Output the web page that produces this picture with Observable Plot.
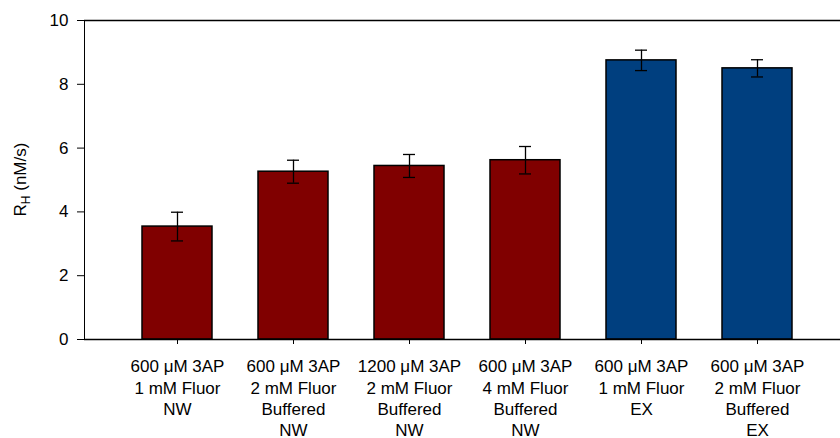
<!DOCTYPE html>
<html>
<head>
<meta charset="utf-8">
<script src="https://cdn.jsdelivr.net/npm/d3@7"></script>
<script src="https://cdn.jsdelivr.net/npm/@observablehq/plot@0.6"></script>
<style>
  html, body { margin: 0; padding: 0; background: #fff; }
  #chart svg { display: block; }
</style>
</head>
<body>
<div id="chart"></div>
<script>
// Hydroxyl radical production rate R_H per condition
const categories = [
  "600 \u03bcM 3AP\n1 mM Fluor\nNW",
  "600 \u03bcM 3AP\n2 mM Fluor\nBuffered\nNW",
  "1200 \u03bcM 3AP\n2 mM Fluor\nBuffered\nNW",
  "600 \u03bcM 3AP\n4 mM Fluor\nBuffered\nNW",
  "600 \u03bcM 3AP\n1 mM Fluor\nEX",
  "600 \u03bcM 3AP\n2 mM Fluor\nBuffered\nEX"
];
const means  = [3.54, 5.26, 5.44, 5.62, 8.75, 8.50];
const errors = [0.45, 0.36, 0.36, 0.43, 0.32, 0.27];
const groups = ["NW", "NW", "NW", "NW", "EX", "EX"];
const yTicks = [0, 2, 4, 6, 8, 10];

const data = categories.map((c, i) => ({
  cat: c, mean: means[i], err: errors[i], group: groups[i]
}));

const chart = Plot.plot({
  width: 840,
  height: 438,
  marginTop: 20,
  marginBottom: 99,
  marginLeft: 84,
  marginRight: 0,
  style: { fontFamily: "'Liberation Sans', Arial, sans-serif", fontSize: "17px", color: "#000", background: "#fff" },
  x: {
    domain: categories,
    range: [84, 850],
    paddingInner: 0.397,
    paddingOuter: 0.5
  },
  y: {
    domain: [0, 10],
    ticks: yTicks,
    tickSize: 7,
    tickPadding: 9,
    line: true,
    label: null
  },
  color: { domain: ["NW", "EX"], range: ["#800000", "#003f7f"] },
  marks: [
    Plot.barY(data, { x: "cat", y: "mean", fill: "group", stroke: "#000", strokeWidth: 1.5 }),
    Plot.ruleX(data, { x: "cat", y1: d => d.mean - d.err, y2: d => d.mean + d.err, stroke: "#000", strokeWidth: 1.3 }),
    Plot.tickY(data, { x: "cat", y: d => d.mean + d.err, stroke: "#000", strokeWidth: 1.3, insetLeft: 29, insetRight: 29 }),
    Plot.tickY(data, { x: "cat", y: d => d.mean - d.err, stroke: "#000", strokeWidth: 1.3, insetLeft: 29, insetRight: 29 }),
    Plot.axisX({ tickSize: 5, tickPadding: 13, lineHeight: 1.24, label: null, fontSize: 17 }),
    Plot.ruleY([0], { stroke: "#000", strokeWidth: 1.3 }),
    Plot.ruleY([10], { stroke: "#000", strokeWidth: 1.3 })
  ]
});

// rotated y-axis title with subscript H
const ys = chart.scale("y");
const yMid = (ys.apply(0) + ys.apply(10)) / 2;
const title = d3.select(chart).append("text")
  .attr("transform", `translate(26,${yMid}) rotate(-90)`)
  .attr("text-anchor", "middle")
  .attr("font-size", 17)
  .attr("fill", "#000");
title.append("tspan").text("R");
title.append("tspan").attr("font-size", 12).attr("dy", 4).text("H");
title.append("tspan").attr("dy", -4).text(" (nM/s)");

document.getElementById("chart").appendChild(chart);
</script>
</body>
</html>
